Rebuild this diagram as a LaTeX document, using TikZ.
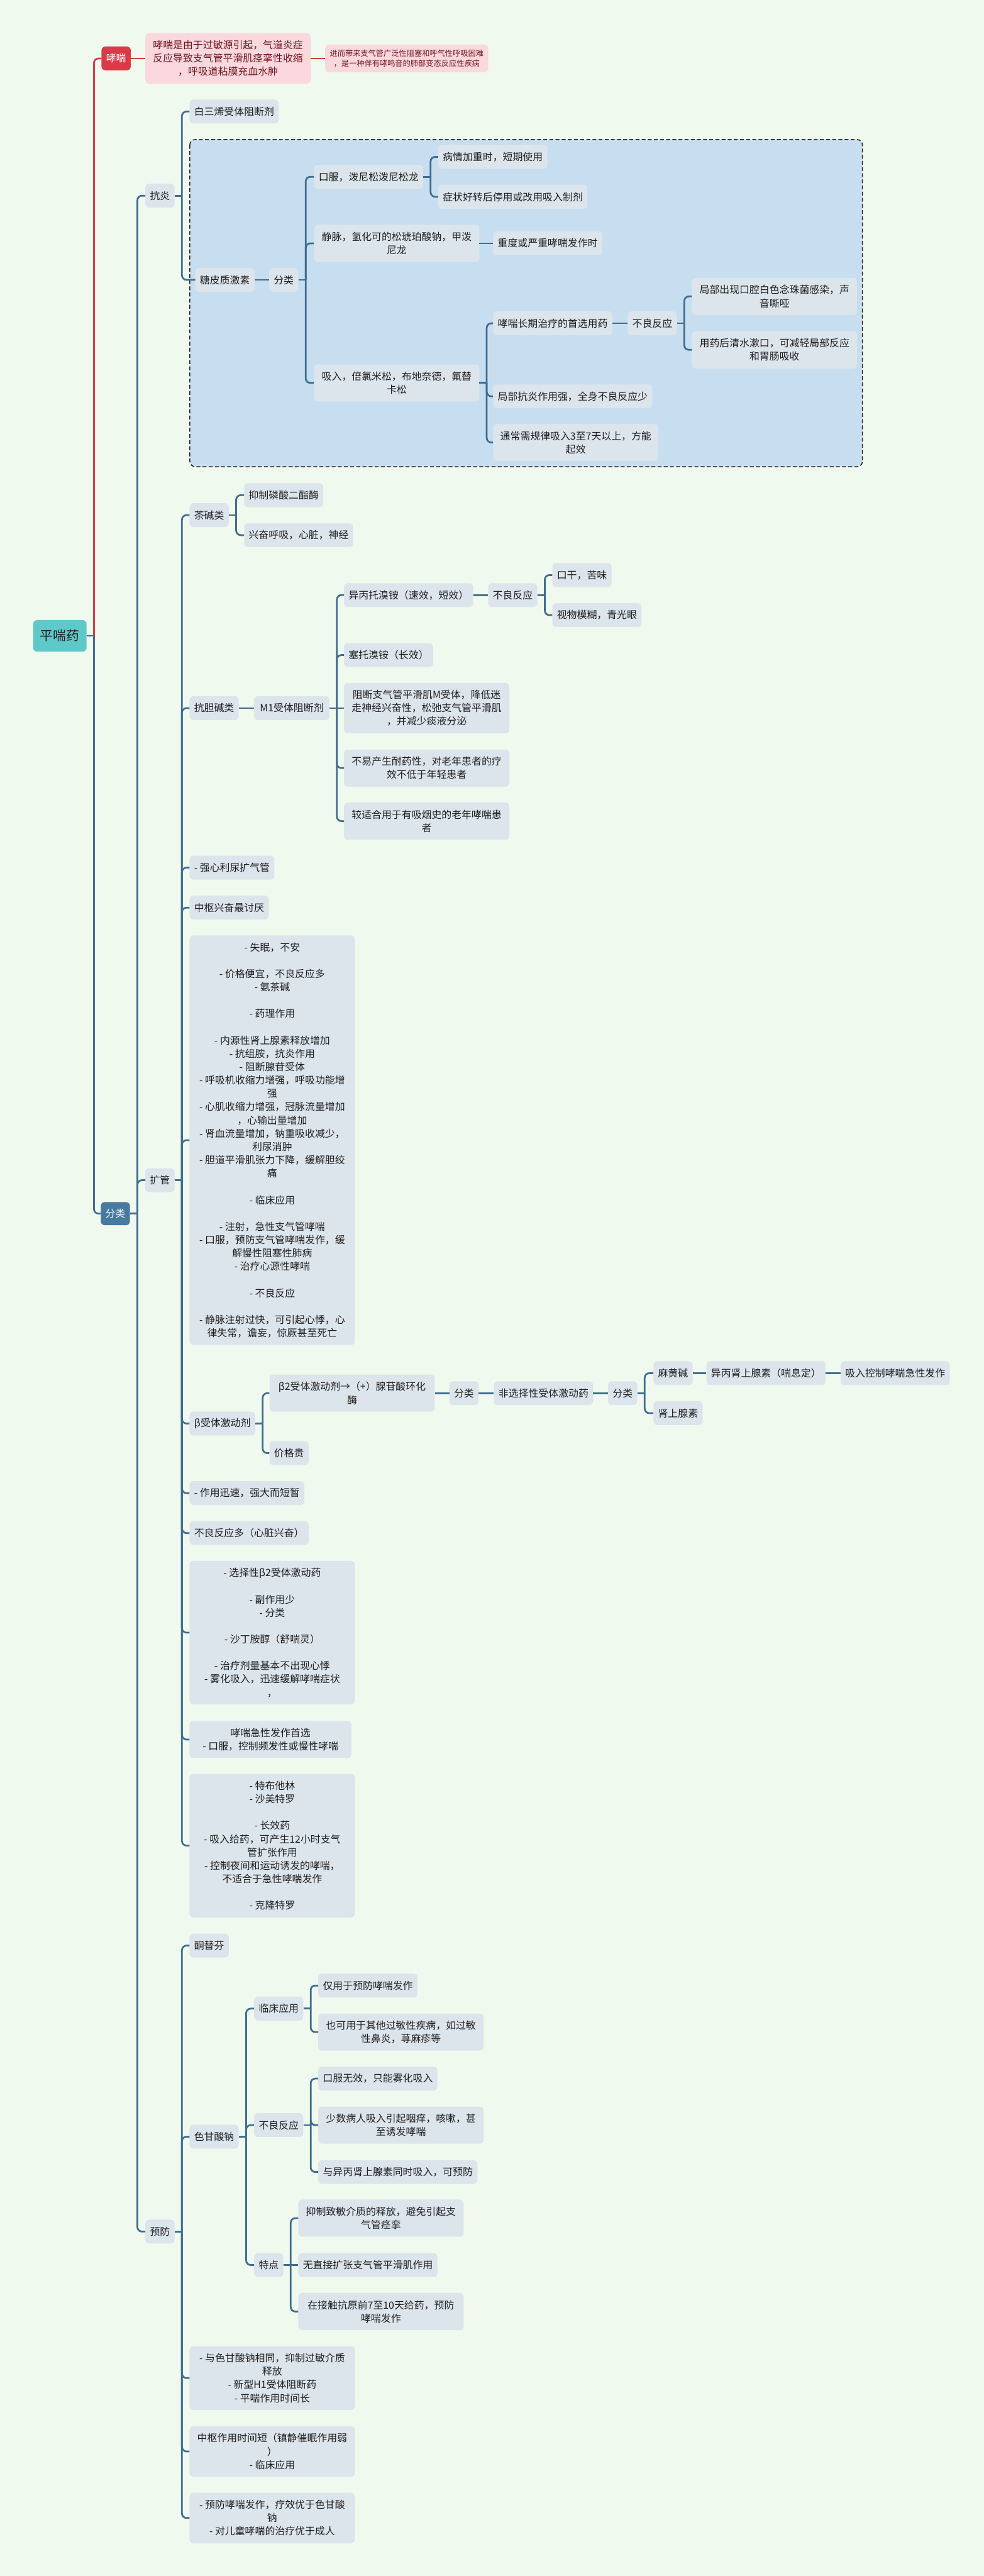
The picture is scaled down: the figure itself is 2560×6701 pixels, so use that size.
\documentclass[tikz,border=0pt]{standalone}
\usepackage{fontspec}
\setmainfont{Noto Sans CJK SC}
\usetikzlibrary{positioning}

\definecolor{bgc}{RGB}{240,249,237}
\definecolor{boxc}{RGB}{220,229,236}
\definecolor{zonec}{RGB}{199,222,240}
\definecolor{linkc}{RGB}{64,110,145}
\definecolor{redc}{RGB}{218,58,72}
\definecolor{pinkc}{RGB}{250,216,221}
\definecolor{maroonc}{RGB}{110,22,32}
\definecolor{rootc}{RGB}{95,201,201}
\definecolor{flc}{RGB}{70,122,160}
\definecolor{inkc}{RGB}{30,30,30}

\begin{document}
\begin{tikzpicture}[x=1pt, y=-1pt,
    every node/.style={anchor=west, rounded corners=10pt, inner xsep=12pt, inner ysep=4pt,
        font={\fontsize{26}{34.6}\selectfont}, text=inkc, align=center, minimum height=62pt},
    box/.style={fill=boxc},
    ln/.style={minimum height={(#1-1)*34.6+62}},
    wide/.style={minimum width=430pt},
    link/.style={draw=linkc, line width=4.5pt},
    redlink/.style={draw=redc, line width=4.5pt},
    zone/.style={draw=black!85, fill=zonec, line width=2.5pt, dash pattern=on 10pt off 6pt, rounded corners=14pt}]
    \def\kid#1#2{\draw[link] (#1.east) -- ++(19,0);
        \draw[link, rounded corners=12pt] (#1.east) ++(19,0) |- (#2.west);}
    \def\kidh#1#2{\draw[link] (#1.east) -- (#2.west);}

    \fill[bgc] (0,0) rectangle (2560,6701);
    \useasboundingbox (0,0) rectangle (2560,6701);

    % frame round the corticosteroid branch
    \draw[zone] (494,363) rectangle (2244,1214);

    % root and asthma
    \node[fill=rootc, minimum width=139pt, minimum height=82pt, font={\fontsize{34}{40}\selectfont}] (root) at (86,1654) {平喘药};
    \node[fill=redc, text=white] (xc) at (264,152) {哮喘};
    \node[fill=pinkc, text=maroonc, wide, ln=3] (xcdef) at (378,152) {哮喘是由于过敏源引起，气道炎症\\反应导致支气管平滑肌痉挛性收缩\\，呼吸道粘膜充血水肿};
    \node[fill=pinkc, text=maroonc, minimum height=72pt, font={\fontsize{20}{26}\selectfont}] (xcnote) at (846,152) {进而带来支气管广泛性阻塞和呼气性呼吸困难\\，是一种伴有哮鸣音的肺部变态反应性疾病};
    \node[fill=flc, text=white, minimum height=60pt] (fl) at (262,3157) {分类};

    \node[box] (ky) at (378,509) {抗炎};
    \node[box] (kuog) at (378,3070) {扩管};
    \node[box] (yf) at (378,5805) {预防};

    % anti-inflammatory
    \node[box] (bsx) at (493,290) {白三烯受体阻断剂};
    \node[box] (tpz) at (508,728) {糖皮质激素};
    \node[box] (tpzfl) at (700,728) {分类};
    \node[box] (kf) at (817,460) {口服，泼尼松泼尼松龙};
    \node[box, wide, ln=2] (jm) at (817,633) {静脉，氢化可的松琥珀酸钠，甲泼\\尼龙};
    \node[box, wide, ln=2] (xr) at (817,996) {吸入，倍氯米松，布地奈德，氟替\\卡松};
    \node[box] (bq) at (1140,408) {病情加重时，短期使用};
    \node[box] (zz) at (1140,512) {症状好转后停用或改用吸入制剂};
    \node[box] (zd) at (1283,633) {重度或严重哮喘发作时};
    \node[box] (cq) at (1283,841) {哮喘长期治疗的首选用药};
    \node[box] (cqbl) at (1633,841) {不良反应};
    \node[box, wide, ln=2] (jbck) at (1800,771) {局部出现口腔白色念珠菌感染，声\\音嘶哑};
    \node[box, wide, ln=2] (yyh) at (1800,910) {用药后清水漱口，可减轻局部反应\\和胃肠吸收};
    \node[box] (jbky) at (1283,1031) {局部抗炎作用强，全身不良反应少};
    \node[box, wide, ln=2] (tcx) at (1283,1151) {通常需规律吸入3至7天以上，方能\\起效};

    % bronchodilators
    \node[box] (cjl) at (493,1340) {茶碱类};
    \node[box] (yz) at (635,1288) {抑制磷酸二酯酶};
    \node[box] (xf) at (635,1392) {兴奋呼吸，心脏，神经};
    \node[box] (kdj) at (493,1842) {抗胆碱类};
    \node[box, minimum width=196pt] (m1) at (661,1842) {M1受体阻断剂};
    \node[box] (ybt) at (895,1548) {异丙托溴铵（速效，短效）};
    \node[box] (ybtbl) at (1270,1548) {不良反应};
    \node[box] (kgan) at (1437,1496) {口干，苦味};
    \node[box] (sw) at (1437,1600) {视物模糊，青光眼};
    \node[box] (stx) at (895,1704) {塞托溴铵（长效）};
    \node[box, wide, ln=3] (zdm) at (895,1842) {阻断支气管平滑肌M受体，降低迷\\走神经兴奋性，松弛支气管平滑肌\\，并减少痰液分泌};
    \node[box, wide, ln=2] (byc) at (895,1998) {不易产生耐药性，对老年患者的疗\\效不低于年轻患者};
    \node[box, wide, ln=2] (jsh) at (895,2136) {较适合用于有吸烟史的老年哮喘患\\者};
    \node[box] (qx) at (493,2257) {- 强心利尿扩气管};
    \node[box] (zs) at (493,2361) {中枢兴奋最讨厌};
    \node[box, wide, ln=30] (blk1) at (493,2966) {- 失眠，不安\\[34.6pt]- 价格便宜，不良反应多\\- 氨茶碱\\[34.6pt]- 药理作用\\[34.6pt]- 内源性肾上腺素释放增加\\- 抗组胺，抗炎作用\\- 阻断腺苷受体\\- 呼吸机收缩力增强，呼吸功能增\\强\\- 心肌收缩力增强，冠脉流量增加\\，心输出量增加\\- 肾血流量增加，钠重吸收减少，\\利尿消肿\\- 胆道平滑肌张力下降，缓解胆绞\\痛\\[34.6pt]- 临床应用\\[34.6pt]- 注射，急性支气管哮喘\\- 口服，预防支气管哮喘发作，缓\\解慢性阻塞性肺病\\- 治疗心源性哮喘\\[34.6pt]- 不良反应\\[34.6pt]- 静脉注射过快，可引起心悸，心\\律失常，谵妄，惊厥甚至死亡};
    \node[box, minimum width=171pt] (bst) at (493,3703) {β受体激动剂};
    \node[box, wide, ln=2] (b2) at (701,3624) {β2受体激动剂→（+）腺苷酸环化\\酶};
    \node[box] (b2fl) at (1169,3624) {分类};
    \node[box] (fxz) at (1285,3624) {非选择性受体激动药};
    \node[box] (fxzfl) at (1582,3624) {分类};
    \node[box] (mhj) at (1700,3572) {麻黄碱};
    \node[box] (ybs) at (1838,3572) {异丙肾上腺素（喘息定）};
    \node[box] (xrkz) at (2187,3572) {吸入控制哮喘急性发作};
    \node[box] (sss) at (1700,3676) {肾上腺素};
    \node[box] (jgg) at (701,3780) {价格贵};
    \node[box] (zyx) at (493,3884) {- 作用迅速，强大而短暂};
    \node[box] (blfy) at (493,3988) {不良反应多（心脏兴奋）};
    \node[box, wide, ln=10] (blk2) at (493,4247) {- 选择性β2受体激动药\\[34.6pt]- 副作用少\\- 分类\\[34.6pt]- 沙丁胺醇（舒喘灵）\\[34.6pt]- 治疗剂量基本不出现心悸\\- 雾化吸入，迅速缓解哮喘症状\\，};
    \node[box, minimum width=421pt, ln=2] (blk3) at (493,4525) {哮喘急性发作首选\\- 口服，控制频发性或慢性哮喘};
    \node[box, wide, ln=10] (blk4) at (493,4801) {- 特布他林\\- 沙美特罗\\[34.6pt]- 长效药\\- 吸入给药，可产生12小时支气\\管扩张作用\\- 控制夜间和运动诱发的哮喘，\\不适合于急性哮喘发作\\[34.6pt]- 克隆特罗};

    % prevention
    \node[box] (ttf) at (493,5061) {酮替芬};
    \node[box] (sgs) at (493,5558) {色甘酸钠};
    \node[box] (lcyy) at (661,5225) {临床应用};
    \node[box] (jyy) at (828,5165) {仅用于预防哮喘发作};
    \node[box, wide, ln=2] (yky) at (828,5286) {也可用于其他过敏性疾病，如过敏\\性鼻炎，荨麻疹等};
    \node[box] (sgbl) at (661,5528) {不良反应};
    \node[box] (kfwx) at (828,5407) {口服无效，只能雾化吸入};
    \node[box, wide, ln=2] (ssbr) at (828,5528) {少数病人吸入引起咽痒，咳嗽，甚\\至诱发哮喘};
    \node[box] (yyb) at (828,5650) {与异丙肾上腺素同时吸入，可预防};
    \node[box] (td) at (661,5892) {特点};
    \node[box, wide, ln=2] (yzzm) at (776,5770) {抑制致敏介质的释放，避免引起支\\气管痉挛};
    \node[box] (wzj) at (776,5892) {无直接扩张支气管平滑肌作用};
    \node[box, wide, ln=2] (zjc) at (776,6013) {在接触抗原前7至10天给药，预防\\哮喘发作};
    \node[box, wide, ln=4] (blkA) at (493,6186) {- 与色甘酸钠相同，抑制过敏介质\\释放\\- 新型H1受体阻断药\\- 平喘作用时间长};
    \node[box, wide, ln=3] (blkB) at (493,6377) {中枢作用时间短（镇静催眠作用弱\\）\\- 临床应用};
    \node[box, wide, ln=3] (blkC) at (493,6550) {- 预防哮喘发作，疗效优于色甘酸\\钠\\- 对儿童哮喘的治疗优于成人};

    % connectors
    \draw[redlink] (root.east) -- ++(19,0);
    \draw[redlink, rounded corners=12pt] (root.east) ++(19,0) |- (xc.west);
    \draw[redlink] (xc.east) -- (xcdef.west);
    \draw[redlink] (xcdef.east) -- (xcnote.west);
    \kid{root}{fl}
    \foreach \c in {ky,kuog,yf} {\kid{fl}{\c}}
    \kid{ky}{bsx} \kid{ky}{tpz}
    \kidh{tpz}{tpzfl}
    \foreach \c in {kf,jm,xr} {\kid{tpzfl}{\c}}
    \kid{kf}{bq} \kid{kf}{zz}
    \kidh{jm}{zd}
    \foreach \c in {cq,jbky,tcx} {\kid{xr}{\c}}
    \kidh{cq}{cqbl}
    \kid{cqbl}{jbck} \kid{cqbl}{yyh}
    \foreach \c in {cjl,kdj,qx,zs,blk1,bst,zyx,blfy,blk2,blk3,blk4} {\kid{kuog}{\c}}
    \kid{cjl}{yz} \kid{cjl}{xf}
    \kidh{kdj}{m1}
    \foreach \c in {ybt,stx,byc,jsh} {\kid{m1}{\c}}
    \kidh{m1}{zdm}
    \kidh{ybt}{ybtbl}
    \kid{ybtbl}{kgan} \kid{ybtbl}{sw}
    \kid{bst}{b2} \kid{bst}{jgg}
    \kidh{b2}{b2fl} \kidh{b2fl}{fxz} \kidh{fxz}{fxzfl}
    \kid{fxzfl}{mhj} \kid{fxzfl}{sss}
    \kidh{mhj}{ybs} \kidh{ybs}{xrkz}
    \foreach \c in {ttf,sgs,blkA,blkB,blkC} {\kid{yf}{\c}}
    \foreach \c in {lcyy,sgbl,td} {\kid{sgs}{\c}}
    \kid{lcyy}{jyy} \kid{lcyy}{yky}
    \foreach \c in {kfwx,ssbr,yyb} {\kid{sgbl}{\c}}
    \kid{td}{yzzm} \kid{td}{zjc}
    \kidh{td}{wzj}
\end{tikzpicture}
\end{document}
